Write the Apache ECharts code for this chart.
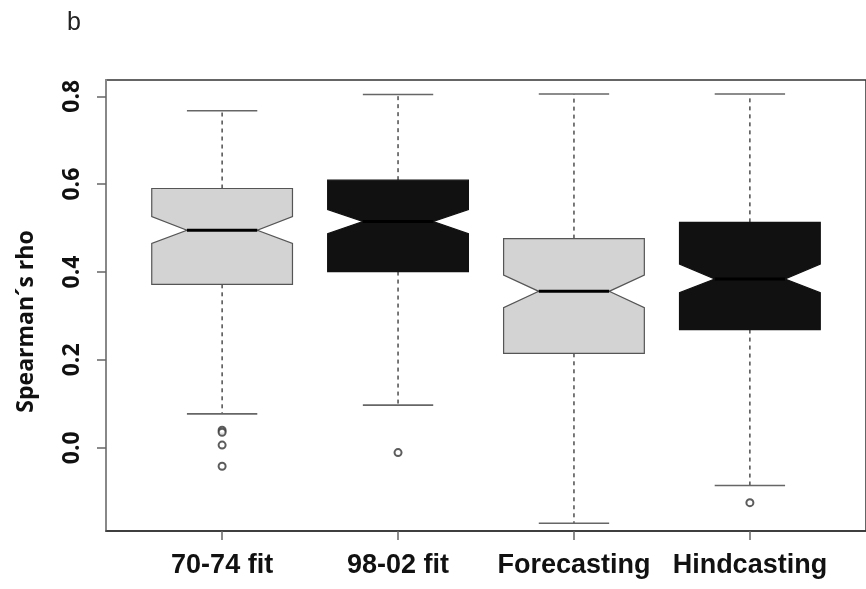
<!DOCTYPE html>
<html>
<head>
<meta charset="utf-8">
<script src="https://cdn.jsdelivr.net/npm/echarts@6/dist/echarts.min.js"></script>
<style>
  html, body { margin: 0; padding: 0; background: #fff; }
  #chart { width: 866px; height: 589px; }
</style>
</head>
<body>
<div id="chart"></div>
<script>
// box statistics, one entry per group
const categories = ['70-74 fit', '98-02 fit', 'Forecasting', 'Hindcasting'];
const whiskerLow = [0.077, 0.097, -0.172, -0.086];
const q1 = [0.372, 0.401, 0.215, 0.269];
const notchLow = [0.465, 0.487, 0.319, 0.353];
const median = [0.495, 0.515, 0.356, 0.384];
const notchHigh = [0.526, 0.542, 0.393, 0.418];
const q3 = [0.590, 0.609, 0.476, 0.513];
const whiskerHigh = [0.767, 0.804, 0.805, 0.805];
// outliers: [group position, value]
const outliers = [
  [1, 0.040], [1, 0.035], [1, 0.006], [1, -0.042],
  [2, -0.011],
  [4, -0.125]
];
const yTicks = [0, 0.2, 0.4, 0.6, 0.8];
const xTicks = [1, 2, 3, 4];

const boxFill = ['#d3d3d3', '#111111', '#d3d3d3', '#111111'];
const FONT = '"Liberation Sans", Arial, sans-serif';

const boxData = categories.map((c, i) => [
  i + 1, whiskerLow[i], q1[i], notchLow[i], median[i], notchHigh[i], q3[i], whiskerHigh[i]
]);

function renderBox(params, api) {
  const x = api.value(0);
  const idx = params.dataIndex;
  const halfW = 0.4;   // boxwex 0.8
  const inner = 0.2;   // notch goes half way in
  const p = (dx, v) => api.coord([x + dx, v]);
  const wl = api.value(1), lo = api.value(2), nl = api.value(3), md = api.value(4);
  const nh = api.value(5), hi = api.value(6), wh = api.value(7);

  const dashed = { stroke: '#333', lineWidth: 1.3, lineDash: [4, 4] };
  const cap = { stroke: '#666', lineWidth: 1.6 };

  const upper = p(0, hi), upperEnd = p(0, wh);
  const lower = p(0, lo), lowerEnd = p(0, wl);
  const capHiL = p(-inner, wh), capHiR = p(inner, wh);
  const capLoL = p(-inner, wl), capLoR = p(inner, wl);

  const poly = [
    p(-halfW, lo), p(-halfW, nl), p(-inner, md), p(-halfW, nh), p(-halfW, hi),
    p(halfW, hi), p(halfW, nh), p(inner, md), p(halfW, nl), p(halfW, lo)
  ];
  const mL = p(-inner, md), mR = p(inner, md);

  return {
    type: 'group',
    children: [
      { type: 'line', shape: { x1: upper[0], y1: upper[1], x2: upperEnd[0], y2: upperEnd[1] }, style: dashed },
      { type: 'line', shape: { x1: lower[0], y1: lower[1], x2: lowerEnd[0], y2: lowerEnd[1] }, style: dashed },
      { type: 'line', shape: { x1: capHiL[0], y1: capHiL[1], x2: capHiR[0], y2: capHiR[1] }, style: cap },
      { type: 'line', shape: { x1: capLoL[0], y1: capLoL[1], x2: capLoR[0], y2: capLoR[1] }, style: cap },
      {
        type: 'polygon',
        shape: { points: poly },
        style: { fill: boxFill[idx], stroke: idx % 2 ? '#111' : '#555', lineWidth: 1.2 }
      },
      { type: 'line', shape: { x1: mL[0], y1: mL[1], x2: mR[0], y2: mR[1] }, style: { stroke: '#000', lineWidth: 3 } }
    ]
  };
}

const chart = echarts.init(document.getElementById('chart'), null, { renderer: 'canvas' });

chart.setOption({
  animation: false,
  backgroundColor: '#fff',
  title: {
    text: 'b',
    left: 62,
    top: 6,
    textStyle: { fontFamily: FONT, fontSize: 25, fontWeight: 'normal', color: '#222' }
  },
  grid: {
    left: 106, top: 80, right: -14, bottom: 58,
    show: true, borderColor: '#333', borderWidth: 1.5, backgroundColor: 'transparent'
  },
  xAxis: {
    type: 'value',
    min: 0.34,
    max: 4.66,
    axisLine: { show: true, onZero: false, lineStyle: { color: '#333', width: 1.5 } },
    axisTick: { show: true, customValues: xTicks, length: 9, lineStyle: { color: '#666', width: 1.5 } },
    axisLabel: {
      customValues: xTicks,
      formatter: (v) => categories[Math.round(v) - 1],
      fontFamily: FONT, fontWeight: 'bold', fontSize: 27, color: '#111', margin: 21
    },
    splitLine: { show: false }
  },
  yAxis: {
    type: 'value',
    min: -0.1895,
    max: 0.837,
    name: 'Spearman\u00b4s rho',
    nameLocation: 'middle',
    nameGap: 68,
    nameTextStyle: {
      fontFamily: '"Open Sans", sans-serif', fontWeight: 'bold', fontSize: 23, color: '#111',
      padding: [0, 32, 0, 0]
    },
    axisLine: { show: true, onZero: false, lineStyle: { color: '#888', width: 2 } },
    axisTick: { show: true, customValues: yTicks, length: 9, lineStyle: { color: '#666', width: 1.5 } },
    axisLabel: {
      customValues: yTicks,
      rotate: 90,
      formatter: (v) => v.toFixed(1),
      fontFamily: '"Open Sans", sans-serif', fontWeight: 'bold', fontSize: 23, color: '#111', margin: 22
    },
    splitLine: { show: false }
  },
  series: [
    {
      type: 'custom',
      renderItem: renderBox,
      data: boxData,
      encode: { x: 0, y: [1, 2, 3, 4, 5, 6, 7] },
      clip: false
    },
    {
      type: 'scatter',
      data: outliers,
      symbol: 'emptyCircle',
      symbolSize: 7,
      itemStyle: { color: '#333', borderWidth: 1 }
    }
  ]
});
</script>
</body>
</html>
